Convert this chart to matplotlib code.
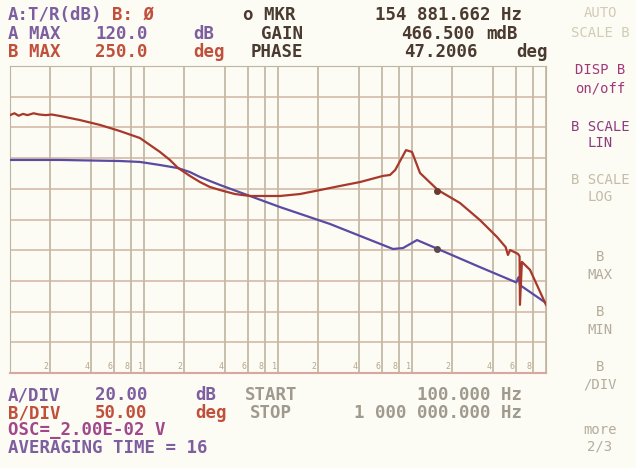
import numpy as np
import matplotlib
matplotlib.use("Agg")
import matplotlib.pyplot as plt
from matplotlib.ticker import LogLocator, NullFormatter

f_gain = [100, 236, 662, 932, 1316, 1793, 2200, 2617, 3100, 3690, 6180,
          10350, 24400, 72100, 85700, 109000, 156000, 321000, 600000,
          625000, 639000, 1000000]
gain_db = [58.8, 58.8, 58.1, 57.5, 55.5, 53.5, 50.9, 47.7, 45.1, 42.5, 35.3,
           28.1, 17.1, 0.8, 1.4, 6.6, 0.8, -11.0, -21.0, -17.5, -22.7, -34.4]

f_phase = [100, 108, 116, 125, 135, 150, 165, 185, 205, 236, 332, 470, 662,
           932, 1316, 1560, 1793, 2200, 2617, 3100, 3690, 4770, 6180, 10350,
           14600, 20600, 29000, 40900, 60800, 68500, 74900, 90200, 100000,
           114800, 156000, 228000, 321000, 431000, 500000, 520000, 540000,
           618000, 635000, 639000, 661000, 760000, 1000000]
phase_deg = [170, 173, 169, 172, 170, 173, 171, 170, 171, 168.6, 162, 154,
             144, 132.7, 110, 97, 84, 71, 61, 53, 48, 41.5, 38.3, 38.3, 41.5,
             48, 54.6, 61, 71, 72.5, 80.6, 113, 110, 75.7, 48, 26.9, -0.8,
             -28.5, -45, -57.8, -49.7, -56, -60, -139, -69, -82, -139]

mkr_f = 154881.662
mkr_gain = 0.4665
mkr_phase = 47.2006

bg = "#fcfbf4"
purple = "#7d5fa0"
red = "#c0503c"
dark = "#4a3a30"
grey = "#a09a8e"
faint = "#d2cbb6"

fig = plt.figure(figsize=(6.36, 4.68), dpi=100, facecolor=bg)
W, H = 636.0, 468.0
ax = fig.add_axes([10 / W, (H - 373) / H, 536 / W, 307 / H], facecolor=bg)
ax.set_xscale("log")
ax.set_xlim(100, 1e6)
ax.set_ylim(-80, 120)
ax.set_yticks(np.arange(-80, 121, 20))
ax.xaxis.set_major_locator(LogLocator(base=10, numticks=10))
ax.xaxis.set_minor_locator(LogLocator(base=10, subs=(2, 4, 6, 8), numticks=10))
ax.xaxis.set_minor_formatter(NullFormatter())
ax.grid(which="both", axis="x", color="#b9ae98", lw=1.1)
ax.grid(which="major", axis="y", color="#d0b4a0", lw=1.1)
ax.tick_params(which="both", length=0, labelbottom=False, labelleft=False)
for s in ["left", "top", "right"]:
    ax.spines[s].set_color("#c0b6a0")
ax.spines["bottom"].set_color("#d8a8a0")
ax.spines["bottom"].set_linewidth(1.5)

# petites etiquettes 2 4 6 8 1 en bas de la grille
for dec in [100, 1000, 10000, 100000]:
    for m, lab in [(2, "2"), (4, "4"), (6, "6"), (8, "8"), (10, "1")]:
        if dec * m >= 1e6:
            continue
        ax.text(dec * m * 0.975, -76, lab, ha="right", va="center",
                fontsize=6, color="#b8a88e", family="DejaVu Sans Mono")

ax.plot(f_gain, gain_db, color="#5a4aa2", lw=1.6, zorder=3)
ax.plot([mkr_f], [mkr_gain], "o", color="#5a4a50", ms=4, zorder=4)

ax2 = ax.twinx()
ax2.set_ylim(-250, 250)
ax2.set_yticks([])
for s in ax2.spines.values():
    s.set_visible(False)
ax2.plot(f_phase, phase_deg, color="#a8382a", lw=1.6, zorder=3)
ax2.plot([mkr_f], [mkr_phase], "o", color="#6a3a30", ms=4, zorder=4)


def put(x, y, s, color, ha="left", size=12.5):
    fig.text(x / W, 1 - y / H, s, color=color, ha=ha, va="center",
             fontsize=size, family="DejaVu Sans Mono", weight="bold")


# en-tete
put(8, 15, "A:T/R(dB)", purple)
put(112, 15, "B: Ø", red)
put(243, 15, "o MKR", dark)
put(522, 15, "154 881.662 Hz", dark, ha="right")
put(8, 34, "A MAX", purple)
put(95, 34, "120.0", purple)
put(193, 34, "dB", purple)
put(303, 34, "GAIN", dark, ha="right")
put(475, 34, "466.500", dark, ha="right")
put(518, 34, "mdB", dark, ha="right")
put(8, 52, "B MAX", red)
put(95, 52, "250.0", red)
put(193, 52, "deg", red)
put(303, 52, "PHASE", dark, ha="right")
put(478, 52, "47.2006", dark, ha="right")
put(548, 52, "deg", dark, ha="right")

# bas d'ecran
put(8, 395, "A/DIV", purple)
put(95, 395, "20.00", purple)
put(195, 395, "dB", purple)
put(245, 395, "START", grey)
put(522, 395, "100.000 Hz", grey, ha="right")
put(8, 413, "B/DIV", red)
put(95, 413, "50.00", red)
put(195, 413, "deg", red)
put(250, 413, "STOP", grey)
put(522, 413, "1 000 000.000 Hz", grey, ha="right")
put(8, 430, "OSC=_2.00E-02 V", "#a0488a")
put(8, 448, "AVERAGING TIME = 16", purple)

# touches de droite
keys = [(13, "AUTO", faint), (33, "SCALE B", faint),
        (70, "DISP B", "#a0387a"), (88, "on/off", "#a0387a"),
        (127, "B SCALE", "#8a3c80"), (143, "LIN", "#8a3c80"),
        (180, "B SCALE", "#c4bca6"), (197, "LOG", "#c4bca6"),
        (257, "B", "#b4ac9c"), (275, "MAX", "#b4ac9c"),
        (312, "B", "#b4ac9c"), (330, "MIN", "#b4ac9c"),
        (367, "B", "#b4ac9c"), (385, "/DIV", "#b4ac9c"),
        (430, "more", "#b4ac9c"), (447, "2/3", "#b4ac9c")]
for y, s, c in keys:
    fig.text(600 / W, 1 - y / H, s, color=c, ha="center", va="center",
             fontsize=10, family="DejaVu Sans Mono")

fig.savefig("out.png", dpi=100, facecolor=bg)
